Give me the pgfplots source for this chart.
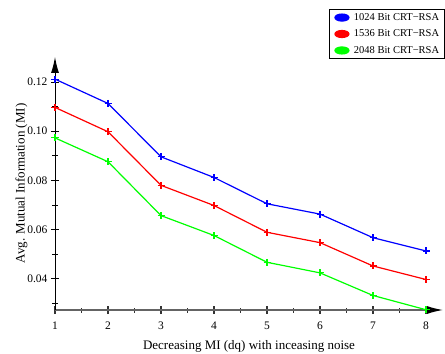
\documentclass[border=0pt]{standalone}
\usepackage{fontspec}
\setmainfont{Liberation Serif}
\usepackage{pgfplots}
\pgfplotsset{compat=1.18}
\usetikzlibrary{arrows.meta,calc}
\definecolor{pgreen}{RGB}{0,255,0}
\definecolor{axgray}{RGB}{100,100,100}
\begin{document}
\begin{tikzpicture}
\begin{axis}[
  scale only axis,
  width=388bp, height=253bp,
  xmin=1, xmax=8.32,
  ymin=0.0273, ymax=0.1302,
  axis lines=left,
  axis line style={line width=1pt},
  x axis line style={axgray, line width=1.3pt, -{Latex[length=16bp,width=8bp,color=black]}},
  y axis line style={black, line width=1pt, -{Latex[length=16bp,width=8bp,color=black]}},
  xtick={1,2,3,4,5,6,7,8},
  minor xtick={1.5,2.5,3.5,4.5,5.5,6.5,7.5},
  ytick={0.04,0.06,0.08,0.10,0.12},
  minor ytick={0.03,0.05,0.07,0.09,0.11},
  tick align=center,
  major tick length=8bp,
  minor tick length=5bp,
  xtick style={black!80, line width=1.1pt},
  ytick style={black, line width=0.9pt},
  yticklabel style={/pgf/number format/.cd, fixed, fixed zerofill, precision=2},
  /pgf/number format/assume math mode=true,
  tick label style={font=\fontsize{11.5bp}{13bp}\selectfont},
  xticklabel style={yshift=-4bp},
  xlabel={Decreasing MI (dq) with inceasing noise},
  ylabel={Avg. Mutual Information (MI)},
  label style={font=\fontsize{13bp}{15bp}\selectfont},
  xlabel style={yshift=-4bp},
  ylabel style={yshift=-7bp},
  legend style={at={(rel axis cs:1.004,1.19)}, anchor=north east, draw=black, line width=0.8pt,
    font=\fontsize{10.5bp}{12.5bp}\selectfont, row sep=4bp, inner xsep=3bp, inner ysep=2bp},
  legend cell align=left,
  legend image code/.code={\path[draw=none,fill=none] (0,-3bp) rectangle (20bp,3bp); \fill[#1] (10bp,0) ellipse (7bp and 3.5bp);},
  every axis plot/.append style={line width=1.2pt, mark=+, mark size=3.5bp, mark options={line width=1.1pt}},
  clip=false,
]
\addplot[blue, mark options={blue}] coordinates {(1,0.1212) (2,0.1113) (3,0.0896) (4,0.0812) (5,0.0705) (6,0.0663) (7,0.0567) (8,0.0513)};
\addlegendentry{1024 Bit CRT−RSA\hspace{12bp}}
\addplot[red, mark options={red}] coordinates {(1,0.1097) (2,0.0998) (3,0.0780) (4,0.0698) (5,0.0589) (6,0.0547) (7,0.0452) (8,0.0397)};
\addlegendentry{1536 Bit CRT−RSA\hspace{12bp}}
\addplot[pgreen, mark options={pgreen}] coordinates {(1,0.0973) (2,0.0876) (3,0.0657) (4,0.0576) (5,0.0467) (6,0.0424) (7,0.0332) (8,0.0274)};
\addlegendentry{2048 Bit CRT−RSA\hspace{12bp}}
\coordinate (O) at (rel axis cs:0,0);
\end{axis}
\pgfresetboundingbox
\path[use as bounding box] ($(O)+(-55bp,-44bp)$) rectangle ++(445bp,354bp);
\end{tikzpicture}
\end{document}
